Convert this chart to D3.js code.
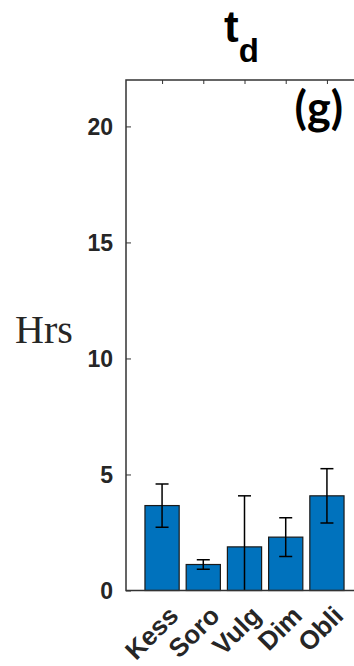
<!DOCTYPE html>
<html>
<head>
<meta charset="utf-8">
<script src="https://cdn.jsdelivr.net/npm/d3@7"></script>
<style>
  html, body { margin: 0; padding: 0; background: #fff; overflow: hidden; }
  svg { display: block; }
</style>
</head>
<body>
<svg id="chart" width="354" height="666"></svg>
<script>
// Species groups and mean duration t_d (hours) with error half-widths
const species = ["Kess", "Soro", "Vulg", "Dim", "Obli"];
const meanHrs = [3.66, 1.12, 1.88, 2.30, 4.08];
const errHrs = [0.93, 0.20, 2.20, 0.84, 1.17];
const yTicks = [0, 5, 10, 15, 20];

const m = { left: 126, top: 80, bottom: 590.5, right: 363 };
const axisColor = "#333";

const svg = d3.select("#chart");

const x = d3.scalePoint().domain(species).range([m.left, m.right]).padding(0.875);
const y = d3.scaleLinear().domain([0, 22]).range([m.bottom, m.top]);
const barW = x.step() * 0.83;

const data = species.map((s, i) => ({ s, v: meanHrs[i], e: errHrs[i] }));

// bars
svg.append("g").selectAll("rect").data(data).join("rect")
  .attr("x", d => x(d.s) - barW / 2)
  .attr("y", d => y(d.v))
  .attr("width", barW)
  .attr("height", d => y(0) - y(d.v))
  .attr("fill", "#0072BD")
  .attr("stroke", "#1a1a1a")
  .attr("stroke-width", 1.2);

// error bars, clipped to the axes box
svg.append("defs").append("clipPath").attr("id", "box")
  .append("rect").attr("x", m.left).attr("y", m.top)
  .attr("width", m.right - m.left).attr("height", m.bottom - m.top);

const eb = svg.append("g").attr("clip-path", "url(#box)")
  .attr("stroke", "#000").attr("stroke-width", 1.5).attr("fill", "none");
const cap = 6.5;
data.forEach(d => {
  const x0 = x(d.s);
  const hi = y(d.v + d.e), lo = y(d.v - d.e);
  eb.append("line").attr("x1", x0).attr("x2", x0).attr("y1", hi).attr("y2", lo);
  eb.append("line").attr("x1", x0 - cap).attr("x2", x0 + cap).attr("y1", hi).attr("y2", hi);
  eb.append("line").attr("x1", x0 - cap).attr("x2", x0 + cap).attr("y1", lo).attr("y2", lo);
});

// left axis with inward ticks
const yAxis = svg.append("g").attr("transform", `translate(${m.left},0)`)
  .call(d3.axisRight(y).tickValues(yTicks).tickSize(5).tickFormat(""));
yAxis.select(".domain").remove();
yAxis.selectAll("line").attr("stroke", axisColor).attr("stroke-width", 1);

svg.append("g").selectAll("text").data(yTicks).join("text")
  .attr("x", m.left - 13)
  .attr("y", d => y(d))
  .attr("dy", "0.36em")
  .attr("text-anchor", "end")
  .attr("font-family", "Liberation Sans, Arial, sans-serif")
  .attr("font-weight", "bold")
  .attr("font-size", 23)
  .attr("fill", "#262626")
  .text(d => d);

// top axis with inward ticks
const topAxis = svg.append("g").attr("transform", `translate(0,${m.top})`)
  .call(d3.axisBottom(x).tickSize(4).tickFormat(""));
topAxis.select(".domain").remove();
topAxis.selectAll("line").attr("stroke", axisColor).attr("stroke-width", 1);

// axes box lines
svg.append("path")
  .attr("d", `M${m.right},${m.bottom}H${m.left}V${m.top}H${m.right}`)
  .attr("fill", "none").attr("stroke", axisColor).attr("stroke-width", 1.5);

// rotated category labels
svg.append("g").selectAll("text").data(species).join("text")
  .attr("transform", d => `translate(${x(d) + 5},${m.bottom + 14}) rotate(-45)`)
  .attr("text-anchor", "end")
  .attr("dy", "0.7em")
  .attr("font-family", "Liberation Sans, Arial, sans-serif")
  .attr("font-weight", "bold")
  .attr("font-size", 26)
  .attr("fill", "#262626")
  .text(d => d);

// y-axis label
svg.append("text")
  .attr("x", 15).attr("y", 343)
  .attr("font-family", "Liberation Serif, Times New Roman, serif")
  .attr("font-size", 40)
  .attr("fill", "#262626")
  .text("Hrs");

// title t_d
const title = svg.append("text")
  .attr("x", 224).attr("y", 42)
  .attr("font-family", "Liberation Sans, Arial, sans-serif")
  .attr("font-weight", "bold")
  .attr("font-size", 44)
  .attr("fill", "#000");
title.append("tspan").text("t");
title.append("tspan").attr("font-size", 33).attr("dy", 20).text("d");

// panel tag
svg.append("text")
  .attr("x", 343).attr("y", 124)
  .attr("text-anchor", "end")
  .attr("font-family", "Lato, Open Sans, sans-serif")
  .attr("font-weight", "bold")
  .attr("font-size", 45)
  .attr("fill", "#000")
  .text("(g)");
</script>
</body>
</html>
